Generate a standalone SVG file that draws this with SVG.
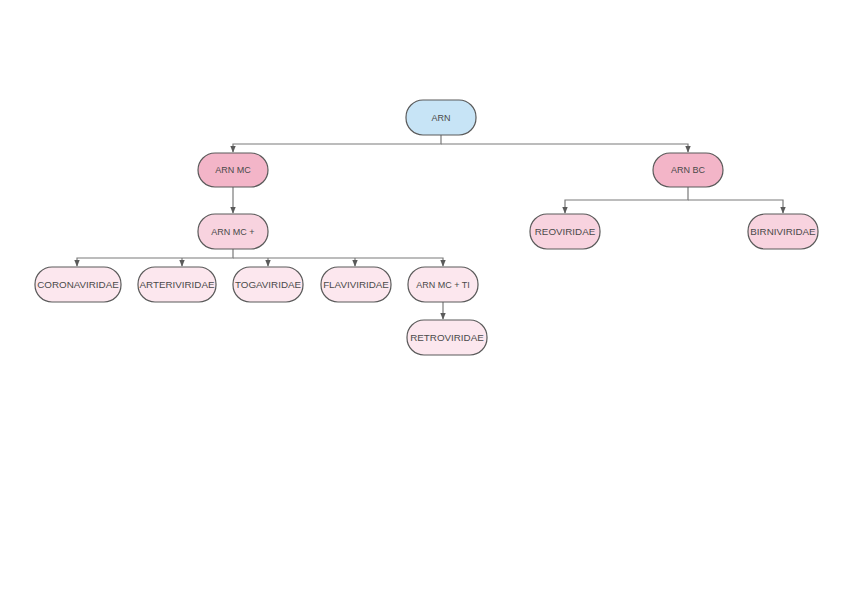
<svg xmlns="http://www.w3.org/2000/svg" width="848" height="599" viewBox="0 0 848 599">
<style>
.n rect{stroke:#5a5a5a;stroke-width:1.2}
.n text{font-family:"Liberation Sans",Arial,sans-serif;font-size:9px;fill:#4a4a4a;text-anchor:middle;dominant-baseline:central}
.n text.l{font-size:9.8px}
.c path{fill:none;stroke:#7a7a7a;stroke-width:1.2}
.b{fill:#c7e4f6}.p1{fill:#f3b5c8}.p2{fill:#f8d3df}.p3{fill:#fce7ee}
</style>
<defs><marker id="a" viewBox="0 0 10 10" refX="9" refY="5" markerWidth="6" markerHeight="6" orient="auto"><path d="M0,1L10,5L0,9z" fill="#5a5a5a"/></marker></defs>
<rect width="848" height="599" fill="#fff"/>
<g class="c">
<path d="M441,135V144H233V152" marker-end="url(#a)"/>
<path d="M441,144H688V152" marker-end="url(#a)"/>
<path d="M233,187V213" marker-end="url(#a)"/>
<path d="M688,187V200H565V213" marker-end="url(#a)"/>
<path d="M688,200H783V213" marker-end="url(#a)"/>
<path d="M233,249V258H77V266" marker-end="url(#a)"/>
<path d="M182,258V266" marker-end="url(#a)"/>
<path d="M268,258V266" marker-end="url(#a)"/>
<path d="M355,258V266" marker-end="url(#a)"/>
<path d="M233,258H443V266" marker-end="url(#a)"/>
<path d="M443,302V319" marker-end="url(#a)"/>
</g>
<g id="arn" class="n"><rect class="b" x="406" y="100" width="70" height="35" rx="17"/><text x="441" y="117.5">ARN</text></g>
<g id="arnmc" class="n"><rect class="p1" x="198" y="153" width="70" height="34" rx="17"/><text x="233" y="170">ARN MC</text></g>
<g id="arnbc" class="n"><rect class="p1" x="653" y="153" width="70" height="34" rx="17"/><text x="688" y="170">ARN BC</text></g>
<g id="arnmcplus" class="n"><rect class="p2" x="198" y="214" width="70" height="35" rx="17"/><text x="233" y="231.5">ARN MC +</text></g>
<g id="reoviridae" class="n"><rect class="p2" x="530" y="214" width="70" height="35" rx="17"/><text class="l" x="565" y="231.5">REOVIRIDAE</text></g>
<g id="birniviridae" class="n"><rect class="p2" x="748" y="214" width="70" height="35" rx="17"/><text class="l" x="783" y="231.5">BIRNIVIRIDAE</text></g>
<g id="coronaviridae" class="n"><rect class="p3" x="35" y="267" width="86" height="35" rx="17"/><text class="l" x="78" y="284.5">CORONAVIRIDAE</text></g>
<g id="arteriviridae" class="n"><rect class="p3" x="138" y="267" width="78" height="35" rx="17"/><text class="l" x="177" y="284.5">ARTERIVIRIDAE</text></g>
<g id="togaviridae" class="n"><rect class="p3" x="233" y="267" width="70" height="35" rx="17"/><text class="l" x="268" y="284.5">TOGAVIRIDAE</text></g>
<g id="flaviviridae" class="n"><rect class="p3" x="321" y="267" width="70" height="35" rx="17"/><text class="l" x="356" y="284.5">FLAVIVIRIDAE</text></g>
<g id="arnmcti" class="n"><rect class="p3" x="408" y="267" width="70" height="35" rx="17"/><text x="443" y="284.5">ARN MC + TI</text></g>
<g id="retroviridae" class="n"><rect class="p3" x="407" y="320" width="80" height="35" rx="17"/><text class="l" x="447" y="337.5">RETROVIRIDAE</text></g>
</svg>
